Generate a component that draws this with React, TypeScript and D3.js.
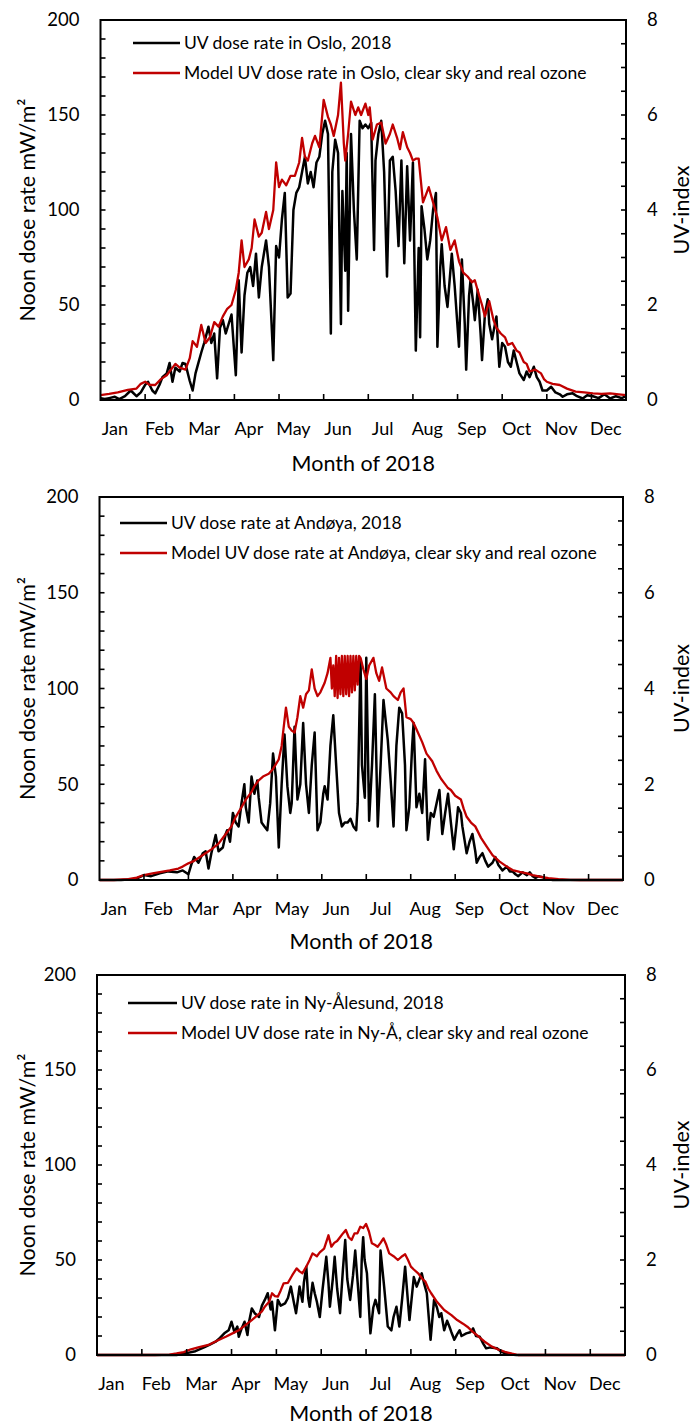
import React from "react";
import * as d3 from "d3";

// ---------- data (day of year, mW/m²) ----------
const months = ["Jan", "Feb", "Mar", "Apr", "May", "Jun", "Jul", "Aug", "Sep", "Oct", "Nov", "Dec"];
const leftTickLabels = [0, 50, 100, 150, 200];
const rightTickLabels = [0, 2, 4, 6, 8];
const xTitle = "Month of 2018";
const yTitle = "Noon dose rate mW/m²";
const y2Title = "UV-index";

const osloObs: [number, number][] = [
  [0,1],[3,0.5],[6,1],[10,1.7],[13,0.5],[17,2],[21,5],[25,2],[28,4],[31,8],[33,9.6],[36,5],[38,3.5],[41,8],[43,12],[46,14],[48,19.5],[50,9.6],[52,17],[55,15],[57,19.5],[59,19],[62,10],[64,5],[66,14],[68,19.5],[70,25],[72,30],[75,38.6],[77,30],[79,35],[81,11.4],[83,38],[85,42],[87,35],[89,40],[91,45],[94,13],[96,63],[98,25],[100,55],[102,67],[104,70],[106,60],[108,77],[110,54],[112,70],[115,84],[117,70],[120,21],[122,81],[124,75],[126,95],[128,109],[130,54],[132,56],[134,100],[136,109],[138,112],[140,120],[142,128],[144,114],[146,120],[148,112],[150,125],[152,128],[154,140],[156,147],[158,140],[160,35],[161,120],[163,137],[165,130],[167,40],[168,110],[170,68],[171,130],[172,47],[174,140],[176,100],[178,74],[180,147],[182,143],[184,145],[186,143],[188,146],[190,79],[191,126],[193,140],[195,147],[197,120],[199,65],[201,126],[203,128],[205,110],[207,81],[209,126],[211,72],[213,123],[215,84],[217,125],[219,26],[221,80],[222,33],[223,102],[225,90],[227,74],[229,84],[231,100],[233,109],[234,28],[236,70],[237,82],[239,60],[241,49],[244,77],[246,60],[249,28],[251,74],[253,40],[254,16],[256,55],[257,63],[259,50],[260,42],[262,58],[264,35],[265,21],[267,45],[269,53],[270,40],[272,32],[274,40],[275,44],[277,17.5],[279,30],[281,28],[283,20],[285,17.5],[287,26],[289,20],[291,14],[294,10.5],[296,15],[298,12],[301,17.5],[303,12],[305,9.6],[307,5],[310,5],[313,7],[316,4],[319,3],[321,1.7],[324,3],[328,3.5],[331,2],[335,0.8],[338,2.5],[342,2],[346,1],[350,3],[354,0.8],[358,2],[362,1],[365,2]
];
const osloModel: [number, number][] = [
  [0,2.6],[6,3.2],[12,4],[19,5.3],[25,6],[28,8.5],[31,9.6],[34,8],[38,7.9],[42,11],[46,13],[49,16],[52,19],[55,17],[59,16],[62,22],[64,31],[67,28],[70,39.5],[73,30],[76,33],[79,41],[82,38.6],[85,44],[88,48],[91,50],[94,58],[96,67],[98,84],[100,70],[103,74],[105,80],[107,95],[110,86],[112,88],[115,99],[117,90],[120,100],[122,125],[124,112],[126,116],[129,113],[132,118],[135,118],[138,125],[140,138],[142,128],[144,126],[147,135],[149,139],[152,133],[155,158],[158,149],[160,145],[162,139],[165,150],[167,167],[169,135],[170,126],[172,140],[174,157],[177,150],[179,154],[181,150],[184,156],[186,150],[187,154],[189,137],[192,145],[195,146],[198,135],[201,140],[203,145],[206,138],[208,132],[210,141],[213,133],[215,130],[217,126],[219,127],[221,127],[224,104],[226,108],[228,112],[231,104],[234,96],[237,84],[240,91],[243,79],[246,84],[249,73],[252,67],[255,65],[258,62],[260,63],[263,55],[265,50],[267,44],[270,52],[273,42],[275,38],[278,35],[281,33],[283,29],[286,30],[289,26],[291,25],[294,20],[296,19],[298,15],[302,16],[306,14],[308,11],[310,9.6],[314,8.5],[319,7.9],[324,6],[330,4.4],[336,4],[342,3.5],[348,3.2],[354,3.5],[360,3],[365,2.6]
];

const andoyaObs: [number, number][] = [
  [0,0],[15,0],[25,0.5],[31,2.6],[36,2],[42,3.5],[48,4.5],[54,4],[58,5],[62,3],[64,8],[66,12],[69,9],[72,14],[74,15],[76,6],[78,14],[81,23.5],[83,15],[86,17],[88,24],[89,26],[91,20],[93,35],[95,30],[97,28],[99,40],[101,50],[102,38],[104,30],[106,54],[108,45],[110,52],[111,43],[113,30],[115,28],[117,26],[119,40],[121,66],[123,54],[125,17],[127,50],[129,76],[131,49],[133,35],[134,40],[136,80],[138,42],[140,50],[142,82],[144,50],[146,35],[148,60],[150,77],[152,26],[154,30],[156,45],[157,49],[159,42],[161,70],[163,86],[165,60],[167,35],[169,28],[171,30],[173,30],[175,32],[177,28],[179,26],[180,40],[182,115],[183,60],[185,43],[186,116],[188,31],[190,60],[192,97],[194,28],[196,60],[198,94],[200,80],[201,73],[203,52],[205,28],[207,70],[209,90],[211,87],[213,60],[214,26],[216,38],[218,70],[219,82],[221,38],[223,45],[225,35],[227,63],[229,21],[231,35],[233,33],[235,40],[237,47],[239,24],[241,35],[243,45],[245,30],[247,16],[249,30],[250,38],[252,35],[253,28],[256,14],[258,20],[260,24],[262,15],[263,9],[265,12],[267,14],[269,10],[271,7],[274,9],[276,12],[278,8],[281,5],[284,7],[286,4.5],[288,4.5],[290,3],[292,2],[295,4],[298,2.5],[300,4],[302,2],[304,1],[306,2],[309,1.5],[312,0.5],[316,0],[365,0]
];
const andoyaModel: [number, number][] = [
  [0,0],[10,0],[20,0.5],[26,1.2],[31,2.6],[37,3.5],[43,4.3],[49,5],[55,6],[58,7],[62,8.7],[66,10],[70,12],[74,14],[78,16],[83,19],[87,23],[92,28],[95,33],[99,38],[102,42],[106,46],[108,49],[111,52],[114,54],[118,55.5],[121,58],[125,63],[127,70],[128,77],[130,90],[132,80],[134,78],[136,77],[138,85],[140,96],[142,90],[144,97],[146,99],[148,110],[150,100],[152,96],[154,98],[157,103],[159,108],[161,116],[162,100],[163,112],[164,96],[165,117],[166,95],[167,116],[168,97],[169,117],[170,96],[171,117],[172,97],[173,117],[174,96],[175,117],[176,98],[177,117],[178,99],[179,117],[180,102],[181,117],[182,116],[184,110],[186,105],[188,112],[191,116],[193,108],[195,104],[197,111],[200,100],[203,98],[205,96],[208,94],[210,98],[212,100],[214,85],[217,84],[219,82],[222,77],[225,72],[228,66],[232,62],[235,57],[238,53],[240,51],[243,48],[245,47],[248,44],[252,42],[254,37],[256,33],[259,30],[262,28],[266,22],[270,17.4],[274,13],[279,9.6],[284,7],[288,5.2],[293,4.3],[298,3.5],[302,2.5],[307,1.7],[313,1],[320,0.5],[328,0.1],[335,0],[365,0]
];

const nyObs: [number, number][] = [
  [0,0],[55,0],[62,1],[68,2],[74,4],[78,5.5],[82,7],[85,9],[88,11.4],[91,13],[93,17.5],[95,12],[97,15],[98,9.6],[100,14],[102,17.5],[104,10.5],[105,17],[107,24.5],[109,22],[112,20],[114,26],[116,29],[118,32.5],[120,24],[121,28],[123,13],[125,29],[127,26],[130,27.2],[132,30],[134,36],[136,28],[137.6,22],[139,30],[140,36],[142,28],[143,38],[144.7,46.5],[146,30],[147,25.4],[149,38],[150.5,32.5],[152,28],[154,20],[156,35],[158.5,51.7],[160,38],[161,25.4],[163,40],[164.3,51.7],[166,35],[168,22],[170,45],[171.6,60.5],[173,40],[175,29],[177,42],[178.5,55],[180,40],[182,20],[183,50],[184,62],[185,50],[186.6,43],[189,11.4],[191,25],[192.5,29],[195,22],[196,55],[198.5,36],[201,15],[203.5,13],[205,20],[207,25.4],[209,15],[211,30],[213,46.5],[216,18.4],[219,41],[221,36],[224.5,43],[226,38],[228,32.5],[230.6,8],[233,29],[235,25],[236.6,20],[238,22],[240,13],[242,18],[243.6,15],[245,12],[247,8],[249,11],[250.7,13],[252,10],[255.3,11.4],[258,12],[260,14],[262,10],[264.6,9.6],[267,6],[269,3.5],[272,4],[276.5,3.5],[279,2],[282,0.8],[286,0.3],[290,0],[365,0]
];
const nyModel: [number, number][] = [
  [0,0],[40,0],[50,0.2],[55,0.8],[60,1.5],[65,3],[70,4],[77,5.3],[83,7.5],[89,9.6],[94,11.5],[98,13],[103,16],[107,18.4],[111,21],[114,23],[116,25.4],[119,28],[121,32.5],[123,31],[125,30.7],[127,34],[129,37.7],[132,38],[135,42],[138,45.6],[140,44],[142,43],[145,47],[147,50],[149,53.5],[152,52],[154,54],[157,56],[160,63],[162,57],[164,59],[166,60],[168,62],[170,64],[172,65.8],[174,62],[176,60.5],[178,64],[180,64],[182,67.5],[184,66.8],[186,69],[188,65],[190,58.8],[192,58],[194,57],[196,59],[198,61.4],[200,58],[202,53.5],[205,52],[208,50],[211,52],[213,53],[215,50],[217,46.5],[219,45],[222,43],[225,40],[227,38.6],[229,35],[231,32.5],[235,28],[240,23.7],[245,21],[249,18.4],[253,16.5],[256,14.9],[260,12],[264,9.6],[268,7],[273,4.4],[277,3],[282,1.7],[287,0.7],[291,0],[365,0]
];

const obsLegend = ["UV dose rate in Oslo, 2018", "UV dose rate at Andøya, 2018", "UV dose rate in Ny-Ålesund, 2018"];
const modelLegend = [
  "Model UV dose rate in Oslo, clear sky and real ozone",
  "Model UV dose rate at Andøya, clear sky and real ozone",
  "Model UV dose rate in Ny-Å, clear sky and real ozone",
];

// ---------- layout ----------
const panels = [
  { obs: osloObs, model: osloModel, left: 100.5, right: 626, top: 20, bottom: 400, lx1: 133, lx2: 180, ly: 43, titleDy: 71 },
  { obs: andoyaObs, model: andoyaModel, left: 99.5, right: 623, top: 497, bottom: 880, lx1: 120, lx2: 167, ly: 523, titleDy: 69 },
  { obs: nyObs, model: nyModel, left: 97, right: 625, top: 975, bottom: 1355, lx1: 128, lx2: 177, ly: 1003, titleDy: 66 },
];

const FONT = "Lato, 'Open Sans', sans-serif";
const RED = "#c00000";

function Panel({ p, i }: { p: any; i: number }) {
  const x = d3.scaleLinear().domain([0, 365]).range([p.left, p.right]);
  const y = d3.scaleLinear().domain([0, 200]).range([p.bottom, p.top]);
  const y2 = d3.scaleLinear().domain([0, 8]).range([p.bottom, p.top]);
  const line = d3
    .line<[number, number]>()
    .x((d) => x(d[0]))
    .y((d) => y(d[1]));
  const yMinor = d3.range(10, 200, 10);
  const y2Minor = d3.range(0.5, 8, 0.5);
  const monthTicks = d3.range(1, 12).map((k) => k * 31);
  const midY = (p.top + p.bottom) / 2;
  const midX = (p.left + p.right) / 2;
  return (
    <g>
      {/* data */}
      <path d={line(p.obs) || ""} fill="none" stroke="#000" strokeWidth={2.5} strokeLinejoin="round" />
      <path d={line(p.model) || ""} fill="none" stroke={RED} strokeWidth={2.3} strokeLinejoin="round" />
      {/* frame */}
      <rect x={p.left} y={p.top} width={p.right - p.left} height={p.bottom - p.top} fill="none" stroke="#000" strokeWidth={2} />
      {/* ticks */}
      {yMinor.map((v) => (
        <line key={"l" + v} x1={p.left} x2={p.left + 5} y1={y(v)} y2={y(v)} stroke="#000" strokeWidth={1.6} />
      ))}
      {y2Minor.map((v) => (
        <line key={"r" + v} x1={p.right} x2={p.right - 5} y1={y2(v)} y2={y2(v)} stroke="#000" strokeWidth={1.6} />
      ))}
      {monthTicks.map((d) => (
        <line key={"m" + d} x1={x(d)} x2={x(d)} y1={p.bottom} y2={p.bottom - 6} stroke="#000" strokeWidth={1.6} />
      ))}
      {/* tick labels */}
      {leftTickLabels.map((v) => (
        <text key={"lt" + v} x={p.left - 21} y={y(v)} dy="0.35em" textAnchor="end" fontSize={18.5} fontFamily={FONT}>
          {v}
        </text>
      ))}
      {rightTickLabels.map((v) => (
        <text key={"rt" + v} x={p.right + 21} y={y2(v)} dy="0.35em" textAnchor="start" fontSize={18.5} fontFamily={FONT}>
          {v}
        </text>
      ))}
      {months.map((m, k) => (
        <text key={m} x={x(k * 31 + 10)} y={p.bottom + 35} textAnchor="middle" fontSize={18} fontFamily={FONT}>
          {m}
        </text>
      ))}
      {/* axis titles */}
      <text x={midX} y={p.bottom + p.titleDy} textAnchor="middle" fontSize={21.5} fontFamily={FONT}>
        {xTitle}
      </text>
      <text transform={`translate(35,${midY}) rotate(-90)`} textAnchor="middle" fontSize={21.5} fontFamily={FONT}>
        {yTitle}
      </text>
      <text transform={`translate(689,${midY}) rotate(-90)`} textAnchor="middle" fontSize={21.5} fontFamily={FONT}>
        {y2Title}
      </text>
      {/* legend */}
      <line x1={p.lx1} x2={p.lx2} y1={p.ly} y2={p.ly} stroke="#000" strokeWidth={2.5} />
      <text x={p.lx2 + 4} y={p.ly} dy="0.35em" fontSize={17.5} fontFamily={FONT}>
        {obsLegend[i]}
      </text>
      <line x1={p.lx1} x2={p.lx2} y1={p.ly + 30} y2={p.ly + 30} stroke={RED} strokeWidth={2.5} />
      <text x={p.lx2 + 4} y={p.ly + 30} dy="0.35em" fontSize={17.5} fontFamily={FONT}>
        {modelLegend[i]}
      </text>
    </g>
  );
}

export default function App() {
  return (
    <svg width={694} height={1428} style={{ position: "absolute", left: 0, top: 0, background: "#fff" }}>
      <rect width={694} height={1428} fill="#fff" />
      {panels.map((p, i) => (
        <Panel key={i} p={p} i={i} />
      ))}
    </svg>
  );
}
